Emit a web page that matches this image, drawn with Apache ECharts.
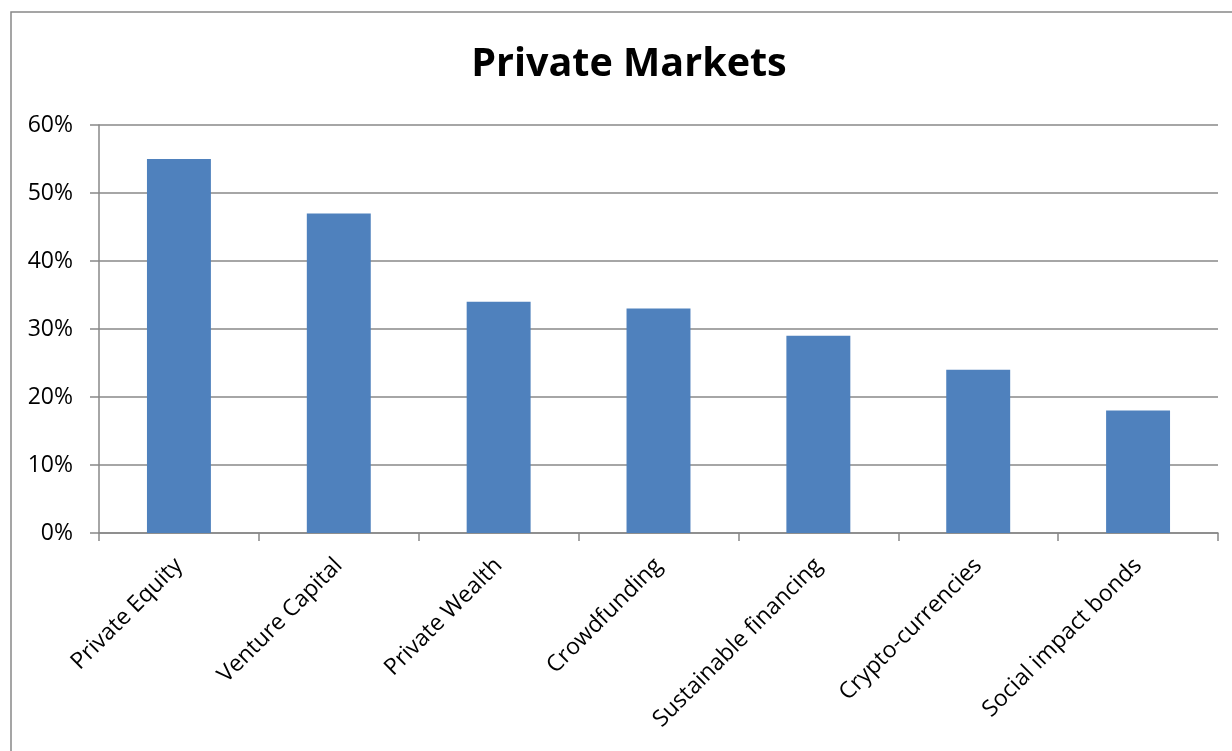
<!DOCTYPE html>
<html>
<head>
<meta charset="utf-8">
<style>
  html, body { margin: 0; padding: 0; background: #fff; }
  #chart { width: 1232px; height: 751px; }
</style>
<script src="https://cdn.jsdelivr.net/npm/echarts@6/dist/echarts.min.js"></script>
</head>
<body>
<div id="chart"></div>
<script>
// Share of respondents by private-market segment (%)
const categories = [
  'Private Equity',
  'Venture Capital',
  'Private Wealth',
  'Crowdfunding',
  'Sustainable financing',
  'Crypto-currencies',
  'Social impact bonds'
];
const shares = [55, 47, 34, 33, 29, 24, 18];
const yTicks = [0, 10, 20, 30, 40, 50, 60];

const FONT = '"Open Sans", "Liberation Sans", Arial, sans-serif';
const AXIS_GREY = '#888888';

const chart = echarts.init(document.getElementById('chart'), null, { renderer: 'canvas' });

chart.setOption({
  backgroundColor: '#ffffff',
  animation: false,
  title: {
    text: 'Private Markets',
    left: 624,
    top: 40,
    textAlign: 'center',
    textStyle: { fontFamily: FONT, fontSize: 39.5, fontWeight: 'bold', color: '#000' }
  },
  graphic: [{
    type: 'rect',
    shape: { x: 11, y: 12, width: 1400, height: 900 },
    style: { fill: 'none', stroke: AXIS_GREY, lineWidth: 1.5 },
    silent: true
  }],
  grid: { left: 99, right: 14, top: 125, bottom: 218, containLabel: false },
  xAxis: {
    type: 'category',
    data: categories,
    boundaryGap: true,
    axisLine: { show: true, lineStyle: { color: AXIS_GREY, width: 1.5 } },
    axisTick: { show: true, alignWithLabel: false, length: 8, lineStyle: { color: AXIS_GREY, width: 1.5 } },
    axisLabel: {
      rotate: 45,
      margin: 29,
      interval: 0,
      fontFamily: FONT,
      fontSize: 23,
      color: '#000'
    },
    splitLine: { show: false }
  },
  yAxis: {
    type: 'value',
    min: yTicks[0],
    max: yTicks[yTicks.length - 1],
    interval: 10,
    axisLine: { show: true, lineStyle: { color: AXIS_GREY, width: 1.5 } },
    axisTick: { show: true, length: 9, inside: false, lineStyle: { color: AXIS_GREY, width: 1.5 } },
    axisLabel: {
      margin: 26,
      fontFamily: FONT,
      fontSize: 23,
      color: '#000',
      formatter: v => v + '%'
    },
    splitLine: { show: true, lineStyle: { color: AXIS_GREY, width: 1.5 } }
  },
  series: [{
    type: 'bar',
    data: shares,
    barWidth: '40%',
    itemStyle: { color: '#4f81bd' }
  }]
});
</script>
</body>
</html>
